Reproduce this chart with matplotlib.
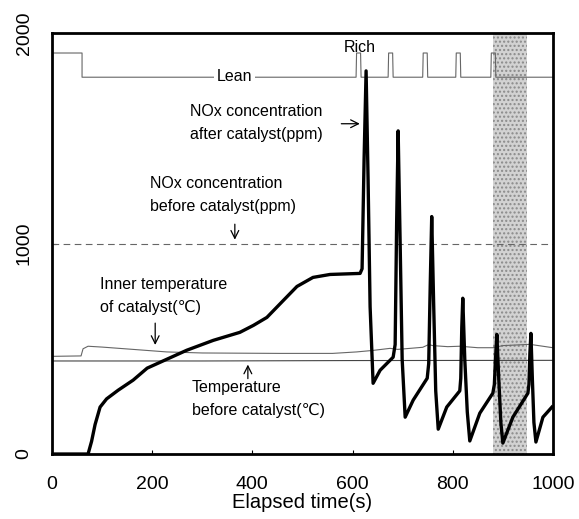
import matplotlib.pyplot as plt

plt.rcParams['font.family'] = ['Liberation Sans', 'DejaVu Sans']

# NOx concentration after catalyst (ppm), thick line
nox_t = [0, 72, 79, 86, 96, 109, 132, 162, 190, 229, 269, 322, 375, 402, 429, 462, 489, 521, 555, 615, 619, 623,
         627, 631, 635, 641, 655, 681,
         685, 688, 691, 695, 699, 705, 721, 749, 752, 755, 758, 762, 766, 771, 788, 814, 816, 818, 820, 824, 829, 834,
         854, 880, 883, 886, 888, 892, 896, 900, 920, 950, 952, 954, 956, 959, 962, 966, 980, 998]
nox_v = [0, 0, 60, 140, 223, 262, 303, 351, 408, 450, 493, 540, 578, 611, 649, 730, 796, 839, 853, 858, 880, 1400,
         1820, 1300, 700, 336, 398, 460,
         520, 1100, 1535, 1000, 450, 175, 256, 360, 430, 800, 1128, 700, 300, 118, 223, 300, 360, 600, 740, 450, 200, 62,
         194, 289, 330, 480, 568, 350, 150, 52, 175, 289, 330, 480, 573, 350, 150, 57, 175, 223]

# NOx concentration before catalyst (ppm)
nox_in_t = [0, 1000]
nox_in_v = [1000, 1000]

# inner temperature of catalyst
inner_t = [0, 58, 62, 72, 100, 162, 229, 300, 455, 560, 608, 640, 675, 690, 740, 752, 760, 790, 814, 850, 880,
           900, 954, 1000]
inner_v = [464, 466, 500, 512, 508, 497, 485, 480, 478, 478, 485, 492, 502, 497, 507, 520, 515, 510, 512, 505, 505,
           515, 521, 505]

# temperature before catalyst
temp_t = [0, 300, 600, 1000]
temp_v = [442, 442, 444, 445]

# lean / rich signal
rich_start = [607, 671, 740, 806, 876]
rich_end = [617, 681, 750, 816, 886]
lean_level = 1790
rich_level = 1905
first_lean = 60

shade = (880, 948)

sig_t = [0, first_lean, first_lean]
sig_v = [rich_level, rich_level, lean_level]
for s, e in zip(rich_start, rich_end):
    sig_t += [s, s + 1, e - 1, e]
    sig_v += [lean_level, rich_level, rich_level, lean_level]
sig_t.append(1000)
sig_v.append(lean_level)

fig = plt.figure(figsize=(5.79, 5.19), dpi=100)
ax = fig.add_axes([0.0898, 0.1252, 0.8652, 0.8112])

ax.axvspan(shade[0], shade[1], facecolor='#d2d2d2', edgecolor='#8a8a8a', hatch='....', linewidth=0, zorder=1)

ax.plot(sig_t, sig_v, color='#666666', lw=0.8, zorder=2)
ax.plot(nox_in_t, nox_in_v, color='#666666', lw=0.8, ls=(0, (6, 4)), zorder=2)
ax.plot(inner_t, inner_v, color='#666666', lw=0.8, zorder=2)
ax.plot(temp_t, temp_v, color='#444444', lw=0.8, zorder=2)
ax.plot(nox_t, nox_v, color='black', lw=2.4, zorder=3)

arr = dict(arrowstyle='->', color='black', lw=0.9, mutation_scale=14)
fs = 11.5
ax.text(615, 1930, 'Rich', fontsize=fs, ha='center', va='center')
ax.text(365, 1792, 'Lean', fontsize=fs, ha='center', va='center',
        bbox=dict(facecolor='white', edgecolor='none', pad=2))
ax.text(275, 1572, 'NOx concentration\nafter catalyst(ppm)', fontsize=fs, ha='left', va='center',
        linespacing=1.7)
ax.annotate('', xy=(620, 1569), xytext=(572, 1569), arrowprops=arr)
ax.text(196, 1230, 'NOx concentration\nbefore catalyst(ppm)', fontsize=fs, ha='left', va='center',
        linespacing=1.7)
ax.annotate('', xy=(365, 1005), xytext=(365, 1105), arrowprops=arr)
ax.text(96, 752, 'Inner temperature\nof catalyst(℃)', fontsize=fs, ha='left', va='center',
        linespacing=1.7)
ax.annotate('', xy=(206, 505), xytext=(206, 635), arrowprops=arr)
ax.text(279, 260, 'Temperature\nbefore catalyst(℃)', fontsize=fs, ha='left', va='center',
        linespacing=1.7)
ax.annotate('', xy=(391, 438), xytext=(391, 345), arrowprops=arr)

ax.set_xlim(0, 1000)
ax.set_ylim(0, 2000)
ax.set_xticks([0, 200, 400, 600, 800, 1000])
ax.set_yticks([0, 1000, 2000])
ax.set_yticklabels(['0', '1000', '2000'], rotation=90, va='center')
ax.tick_params(axis='both', direction='in', length=3, labelsize=14)
ax.tick_params(axis='x', pad=16)
ax.tick_params(axis='y', pad=14)
ax.set_xlabel('Elapsed time(s)', fontsize=14.5, labelpad=0)
for sp in ax.spines.values():
    sp.set_linewidth(2)

fig.savefig('out.png', dpi=100)
